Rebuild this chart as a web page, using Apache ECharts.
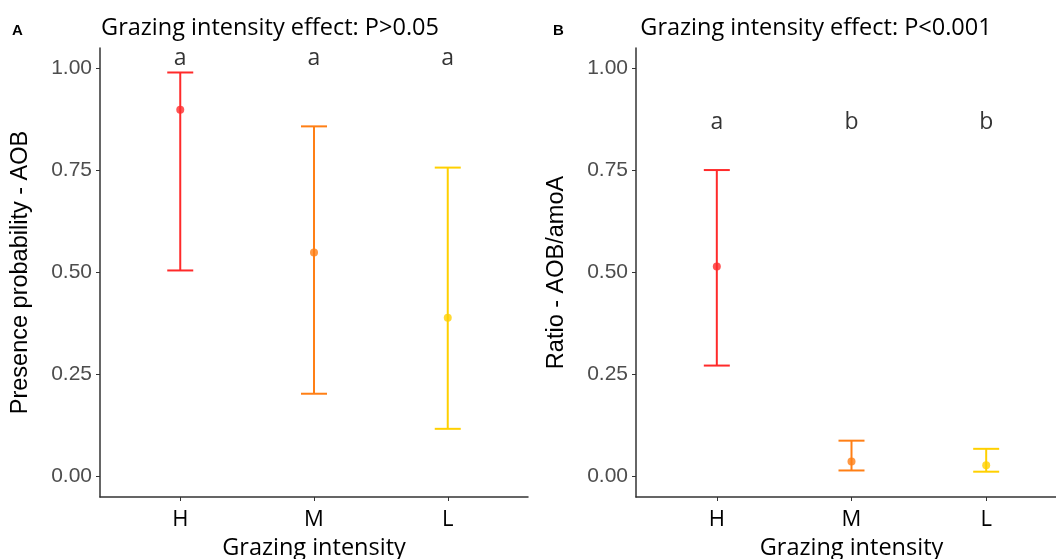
<!DOCTYPE html>
<html>
<head>
<meta charset="utf-8">
<script src="https://cdn.jsdelivr.net/npm/echarts@6/dist/echarts.min.js"></script>
<style>
html,body{margin:0;padding:0;background:#fff;}
#main{width:1056px;height:559px;}
</style>
</head>
<body>
<div id="main"></div>
<script>
// categories (grazing intensity)
var categories = ['H', 'M', 'L'];
var barColors = ['#ff2a2a', '#ff7f15', '#ffd000'];
var yTicks = [0, 0.25, 0.5, 0.75, 1];

// panel A : presence probability - AOB
var meanA = [0.899, 0.549, 0.389];
var lowA = [0.505, 0.203, 0.117];
var highA = [0.990, 0.858, 0.757];
var lettersA = ['a', 'a', 'a'];
var letterYA = 1.025;

// panel B : ratio AOB/amoA
var meanB = [0.515, 0.037, 0.028];
var lowB = [0.272, 0.015, 0.012];
var highB = [0.751, 0.088, 0.068];
var lettersB = ['a', 'b', 'b'];
var letterYB = 0.868;

var font = '"Open Sans", sans-serif';
var arial = '"Liberation Sans", Arial, sans-serif';

function barData(low, high) {
    var d = [];
    for (var i = 0; i < categories.length; i++) {
        d.push([i + 1, low[i], high[i], i]);
    }
    return d;
}
function meanData(mean) {
    var d = [];
    for (var i = 0; i < categories.length; i++) {
        d.push({value: [i + 1, mean[i]], itemStyle: {color: barColors[i]}});
    }
    return d;
}
function letterData(letters, y) {
    var d = [];
    for (var i = 0; i < letters.length; i++) {
        d.push({value: [i + 1, y], name: letters[i]});
    }
    return d;
}

// 误差线
function renderBar(params, api) {
    var x = api.value(0);
    var p1 = api.coord([x, api.value(1)]);
    var p2 = api.coord([x, api.value(2)]);
    var c = barColors[api.value(3)];
    var hw = 13;
    var st = {stroke: c, lineWidth: 2};
    return {
        type: 'group',
        children: [
            {type: 'line', shape: {x1: p1[0], y1: p1[1], x2: p2[0], y2: p2[1]}, style: st},
            {type: 'line', shape: {x1: p1[0] - hw, y1: p1[1], x2: p1[0] + hw, y2: p1[1]}, style: st},
            {type: 'line', shape: {x1: p2[0] - hw, y1: p2[1], x2: p2[0] + hw, y2: p2[1]}, style: st}
        ]
    };
}

function xAxisOf(gi) {
    return {
        type: 'value', gridIndex: gi, min: 0.4, max: 3.6,
        splitLine: {show: false},
        axisLine: {show: true, onZero: false, lineStyle: {color: '#333', width: 1.5}},
        axisTick: {show: true, customValues: [1, 2, 3], length: 4, lineStyle: {color: '#333'}},
        axisLabel: {customValues: [1, 2, 3], margin: 12, color: '#000', fontSize: 22, fontFamily: font,
            formatter: function (v) { return categories[Math.round(v) - 1]; }},
        name: 'Grazing intensity', nameLocation: 'middle', nameGap: 38,
        nameTextStyle: {color: '#000', fontSize: 23.5, fontFamily: font}
    };
}
function yAxisOf(gi, name, gap) {
    return {
        type: 'value', gridIndex: gi, min: -0.05, max: 1.05,
        splitLine: {show: false},
        axisLine: {show: true, onZero: false, lineStyle: {color: '#333', width: 1.5}},
        axisTick: {show: true, customValues: yTicks, length: 4, lineStyle: {color: '#333'}},
        axisLabel: {customValues: yTicks, margin: 8, color: '#4d4d4d', fontSize: 21, fontFamily: arial,
            formatter: function (v) { return v.toFixed(2); }},
        name: name, nameLocation: 'middle', nameGap: gap, nameRotate: 90,
        nameTextStyle: {color: '#000', fontSize: 23.5, fontFamily: arial}
    };
}
function letterSeries(idx, letters, y) {
    return {
        type: 'scatter', xAxisIndex: idx, yAxisIndex: idx, symbolSize: 0,
        data: letterData(letters, y), silent: true,
        label: {show: true, position: 'inside', formatter: '{b}', color: '#000', fontSize: 23, fontFamily: font}
    };
}

var myChart = echarts.init(document.getElementById('main'));
var option = {
    animation: false,
    backgroundColor: '#fff',
    grid: [
        {left: 100, top: 48, width: 428, height: 449, outerBoundsMode: 'none'},
        {left: 636, top: 48, width: 431, height: 449, outerBoundsMode: 'none'}
    ],
    xAxis: [xAxisOf(0), xAxisOf(1)],
    yAxis: [yAxisOf(0, 'Presence probability - AOB', 67), yAxisOf(1, 'Ratio - AOB/amoA', 67)],
    graphic: [
        {type: 'text', left: 12, top: 23, style: {text: 'A', font: 'bold 15px ' + arial, fill: '#000'}},
        {type: 'text', left: 553, top: 23, style: {text: 'B', font: 'bold 15px ' + arial, fill: '#000'}},
        {type: 'text', x: 270, y: 28, style: {text: 'Grazing intensity effect: P>0.05', font: '23.5px ' + font, fill: '#000', textAlign: 'center', textVerticalAlign: 'middle'}},
        {type: 'text', x: 816, y: 28, style: {text: 'Grazing intensity effect: P<0.001', font: '23.5px ' + font, fill: '#000', textAlign: 'center', textVerticalAlign: 'middle'}}
    ],
    series: [
        {type: 'custom', xAxisIndex: 0, yAxisIndex: 0, renderItem: renderBar, data: barData(lowA, highA)},
        {type: 'scatter', xAxisIndex: 0, yAxisIndex: 0, symbolSize: 8, data: meanData(meanA)},
        letterSeries(0, lettersA, letterYA),
        {type: 'custom', xAxisIndex: 1, yAxisIndex: 1, renderItem: renderBar, data: barData(lowB, highB)},
        {type: 'scatter', xAxisIndex: 1, yAxisIndex: 1, symbolSize: 8, data: meanData(meanB)},
        letterSeries(1, lettersB, letterYB)
    ]
};
myChart.setOption(option);
window.onresize = myChart.resize;
</script>
</body>
</html>
